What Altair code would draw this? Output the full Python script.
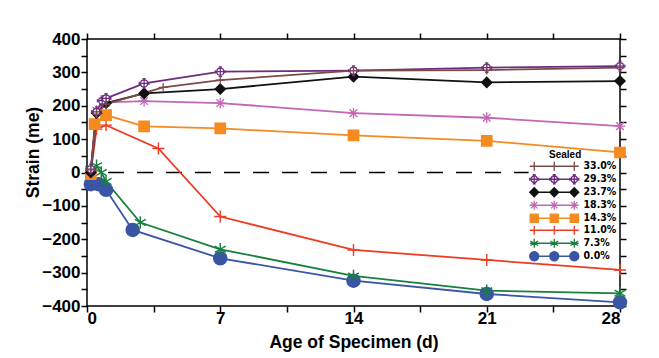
import altair as alt
import pandas as pd

# ---------------- data ----------------
series = ["33.0%", "29.3%", "23.7%", "18.3%", "14.3%", "11.0%", "7.3%", "0.0%"]
colors = ["#7b4c47", "#6d2c80", "#111111", "#c367b6", "#f58a20", "#ee3b25", "#17803f", "#3a55a5"]
fills = ["#7b4c47", "#ffffff", "#111111", "#c367b6", "#f58a20", "#ee3b25", "#17803f", "#3a55a5"]

age_33 = [0.2, 0.5, 1, 4, 7, 14, 21, 28]
strain_33 = [8, 175, 205, 255, 277, 305, 307, 314]
age_29 = [0.2, 0.5, 0.8, 1, 3, 7, 14, 21, 28]
strain_29 = [10, 182, 215, 222, 267, 302, 305, 314, 319]
age_23 = [0.2, 0.5, 1, 3, 7, 14, 21, 28]
strain_23 = [0, 178, 208, 237, 250, 287, 270, 274]
age_18 = [0.2, 0.5, 1, 3, 7, 14, 21, 28]
strain_18 = [5, 185, 210, 214, 208, 178, 164, 139]
age_14 = [0.2, 0.4, 1, 3, 7, 14, 21, 28]
strain_14 = [-5, 145, 172, 138, 132, 111, 95, 60]
age_11 = [0.2, 0.5, 1, 3.75, 7, 14, 21, 28]
strain_11 = [0, 130, 142, 72, -132, -232, -262, -292]
age_7 = [0.2, 0.5, 0.75, 1, 2.8, 7, 14, 21, 28]
strain_7 = [10, 20, 0, -27, -150, -230, -310, -354, -362]
age_0 = [0.2, 0.6, 1, 2.4, 7, 14, 21, 28]
strain_0 = [-35, -35, -52, -172, -257, -324, -364, -389]

x_ticks = [0, 3.5, 7, 10.5, 14, 17.5, 21, 24.5, 28]
y_ticks = list(range(-400, 401, 50))
zero_line_end = 23.2

ages = [age_33, age_29, age_23, age_18, age_14, age_11, age_7, age_0]
strains = [strain_33, strain_29, strain_23, strain_18, strain_14, strain_11, strain_7, strain_0]

rows = []
for s, a_list, v_list in reversed(list(zip(series, ages, strains))):
    for a, v in zip(a_list, v_list):
        rows.append({"series": s, "age": a, "strain": v})
df = pd.DataFrame(rows)

# ---------------- marker paths ----------------
def f(v):
    return f"{v:.3f}"

def circle(cx, r=1.0):
    return f"M{f(cx-r)},0A{f(r)},{f(r)} 0 1,0 {f(cx+r)},0A{f(r)},{f(r)} 0 1,0 {f(cx-r)},0Z"

def square(cx, r=1.0):
    r = 0.9 * r
    return f"M{f(cx-r)},{f(-r)}H{f(cx+r)}V{f(r)}H{f(cx-r)}Z"

def diamond(cx, r=1.0):
    return f"M{f(cx)},{f(-r)}L{f(cx+r)},0L{f(cx)},{f(r)}L{f(cx-r)},0Z"

def plus(cx, r=1.0):
    return f"M{f(cx-r)},0H{f(cx+r)}M{f(cx)},{f(-r)}V{f(r)}"

def aster(cx, r=1.0):
    d = 0.7 * r
    return (plus(cx, r) + f"M{f(cx-d)},{f(-d)}L{f(cx+d)},{f(d)}M{f(cx-d)},{f(d)}L{f(cx+d)},{f(-d)}")

def star6(cx, r=1.0):
    a, b = 0.87 * r, 0.5 * r
    return (f"M{f(cx)},{f(-r)}V{f(r)}M{f(cx-a)},{f(-b)}L{f(cx+a)},{f(b)}"
            f"M{f(cx-a)},{f(b)}L{f(cx+a)},{f(-b)}")

def circ_cross(cx, r=1.0):
    c = 0.72 * r
    e = 0.32 * r
    return (circle(cx, c) + plus(cx, r)
            + f"M{f(cx-r)},{f(-e)}V{f(e)}M{f(cx+r)},{f(-e)}V{f(e)}"
            + f"M{f(cx-e)},{f(-r)}H{f(cx+e)}M{f(cx-e)},{f(r)}H{f(cx+e)}")

# legend symbols: unit = 3.5 px (symbolSize 49); markers 9 px wide, 20 px apart
K = 4.5 / 3.5
marker_fns = [plus, circ_cross, diamond, aster, square, plus, star6, circle]
main_paths = [fn(0) for fn in marker_fns]
leg_paths = [f"M{f(-5.4*K)},0H{f(5.4*K)}" + fn(-4.45 * K, K) + fn(0, K) + fn(4.45 * K, K)
             for fn in marker_fns]
marker_sizes = [81, 169, 100, 100, 110, 121, 100, 115]
marker_strokes = [1.2, 1.5, 1.0, 1.5, 1.0, 2.5, 2.0, 1.0]

FONT = "Liberation Sans"
NARROW = "'Liberation Sans Narrow', 'DejaVu Sans Condensed', 'Liberation Sans'"

xs = alt.Scale(domain=[0, 28], nice=False)
ys = alt.Scale(domain=[-400, 400], nice=False)

x_lab = "datum.value % 7 == 0 ? datum.label : ''"
y_lab = "datum.value % 100 == 0 ? datum.label : ''"

stroke_scale = alt.Scale(domain=series, range=colors)
fill_scale = alt.Scale(domain=series, range=fills)

zero_rule = alt.Chart(pd.DataFrame({"x": [0], "x2": [zero_line_end], "y": [0]})).mark_rule(
    color="black", strokeWidth=1.5, strokeDash=[16, 13], strokeDashOffset=8
).encode(
    x=alt.X("x:Q", scale=xs, axis=None),
    x2="x2:Q",
    y=alt.Y("y:Q", scale=ys, axis=None),
)

lines = alt.Chart(df).mark_line(strokeWidth=1.8).encode(
    x=alt.X("age:Q", scale=xs, title="Age of Specimen (d)",
            axis=alt.Axis(values=x_ticks, labelExpr=x_lab, orient="bottom")),
    y=alt.Y("strain:Q", scale=ys, title="Strain (me)",
            axis=alt.Axis(values=y_ticks, labelExpr=y_lab, orient="left",
                          titleX=-45, titleY=113)),
    stroke=alt.Stroke("series:N", scale=stroke_scale, legend=None),
    detail="series:N",
)

points = alt.Chart(df).mark_point(opacity=1).encode(
    x=alt.X("age:Q", scale=xs, axis=None),
    y=alt.Y("strain:Q", scale=ys, axis=None),
    shape=alt.Shape("series:N", scale=alt.Scale(domain=series, range=main_paths), legend=None),
    stroke=alt.Stroke("series:N", scale=stroke_scale, legend=None),
    fill=alt.Fill("series:N", scale=fill_scale, legend=None),
    size=alt.Size("series:N", scale=alt.Scale(domain=series, range=marker_sizes), legend=None),
    strokeWidth=alt.StrokeWidth("series:N", scale=alt.Scale(domain=series, range=marker_strokes), legend=None),
)

leg = alt.Legend(
    title="Sealed", orient="none", legendX=462, legendY=111, padding=0,
    titleFont=FONT, titleFontSize=10, titleFontWeight="bold", titleColor="black",
    titleAnchor="start", titlePadding=1,
    labelFont=NARROW, labelFontSize=10.5, labelFontWeight="bold", labelColor="black",
    labelOffset=24, symbolSize=49, symbolStrokeWidth=1.3, symbolOpacity=1,
    rowPadding=-3,
)

legend_layer = alt.Chart(pd.DataFrame({"series": series, "age": 0.0, "strain": 0.0})).transform_filter(
    "false"
).mark_point(opacity=1).encode(
    x=alt.X("age:Q", scale=xs, title=None,
            axis=alt.Axis(values=x_ticks, labels=False, orient="top")),
    y=alt.Y("strain:Q", scale=ys, title=None,
            axis=alt.Axis(values=y_ticks, labels=False, orient="right")),
    shape=alt.Shape("series:N", scale=alt.Scale(domain=series, range=leg_paths), legend=leg),
    stroke=alt.Stroke("series:N", scale=stroke_scale, legend=leg),
    fill=alt.Fill("series:N", scale=fill_scale, legend=leg),
)

chart = alt.layer(zero_rule, lines, points, legend_layer).resolve_scale(
    shape="independent", stroke="independent", fill="independent"
).resolve_axis(
    x="independent", y="independent"
).properties(
    width=533, height=267,
    autosize=alt.AutoSizeParams(type="none"),
    padding={"left": 87, "top": 39, "right": 39, "bottom": 52},
    background="white",
).configure_view(
    stroke="black", strokeWidth=1.5
).configure_axis(
    domain=False, grid=False,
    tickColor="black", tickWidth=1.5, tickSize=6,
    labelFont=FONT, labelFontSize=17, labelFontWeight="bold", labelColor="black",
    labelPadding=0,
    titleFont=FONT, titleFontSize=17.5, titleFontWeight="bold", titleColor="black",
).configure_axisX(
    labelPadding=-2, titlePadding=7,
).configure_axisY(
    labelPadding=1,
)

chart.save("out.html", embed_options={"renderer": "svg", "actions": False})
